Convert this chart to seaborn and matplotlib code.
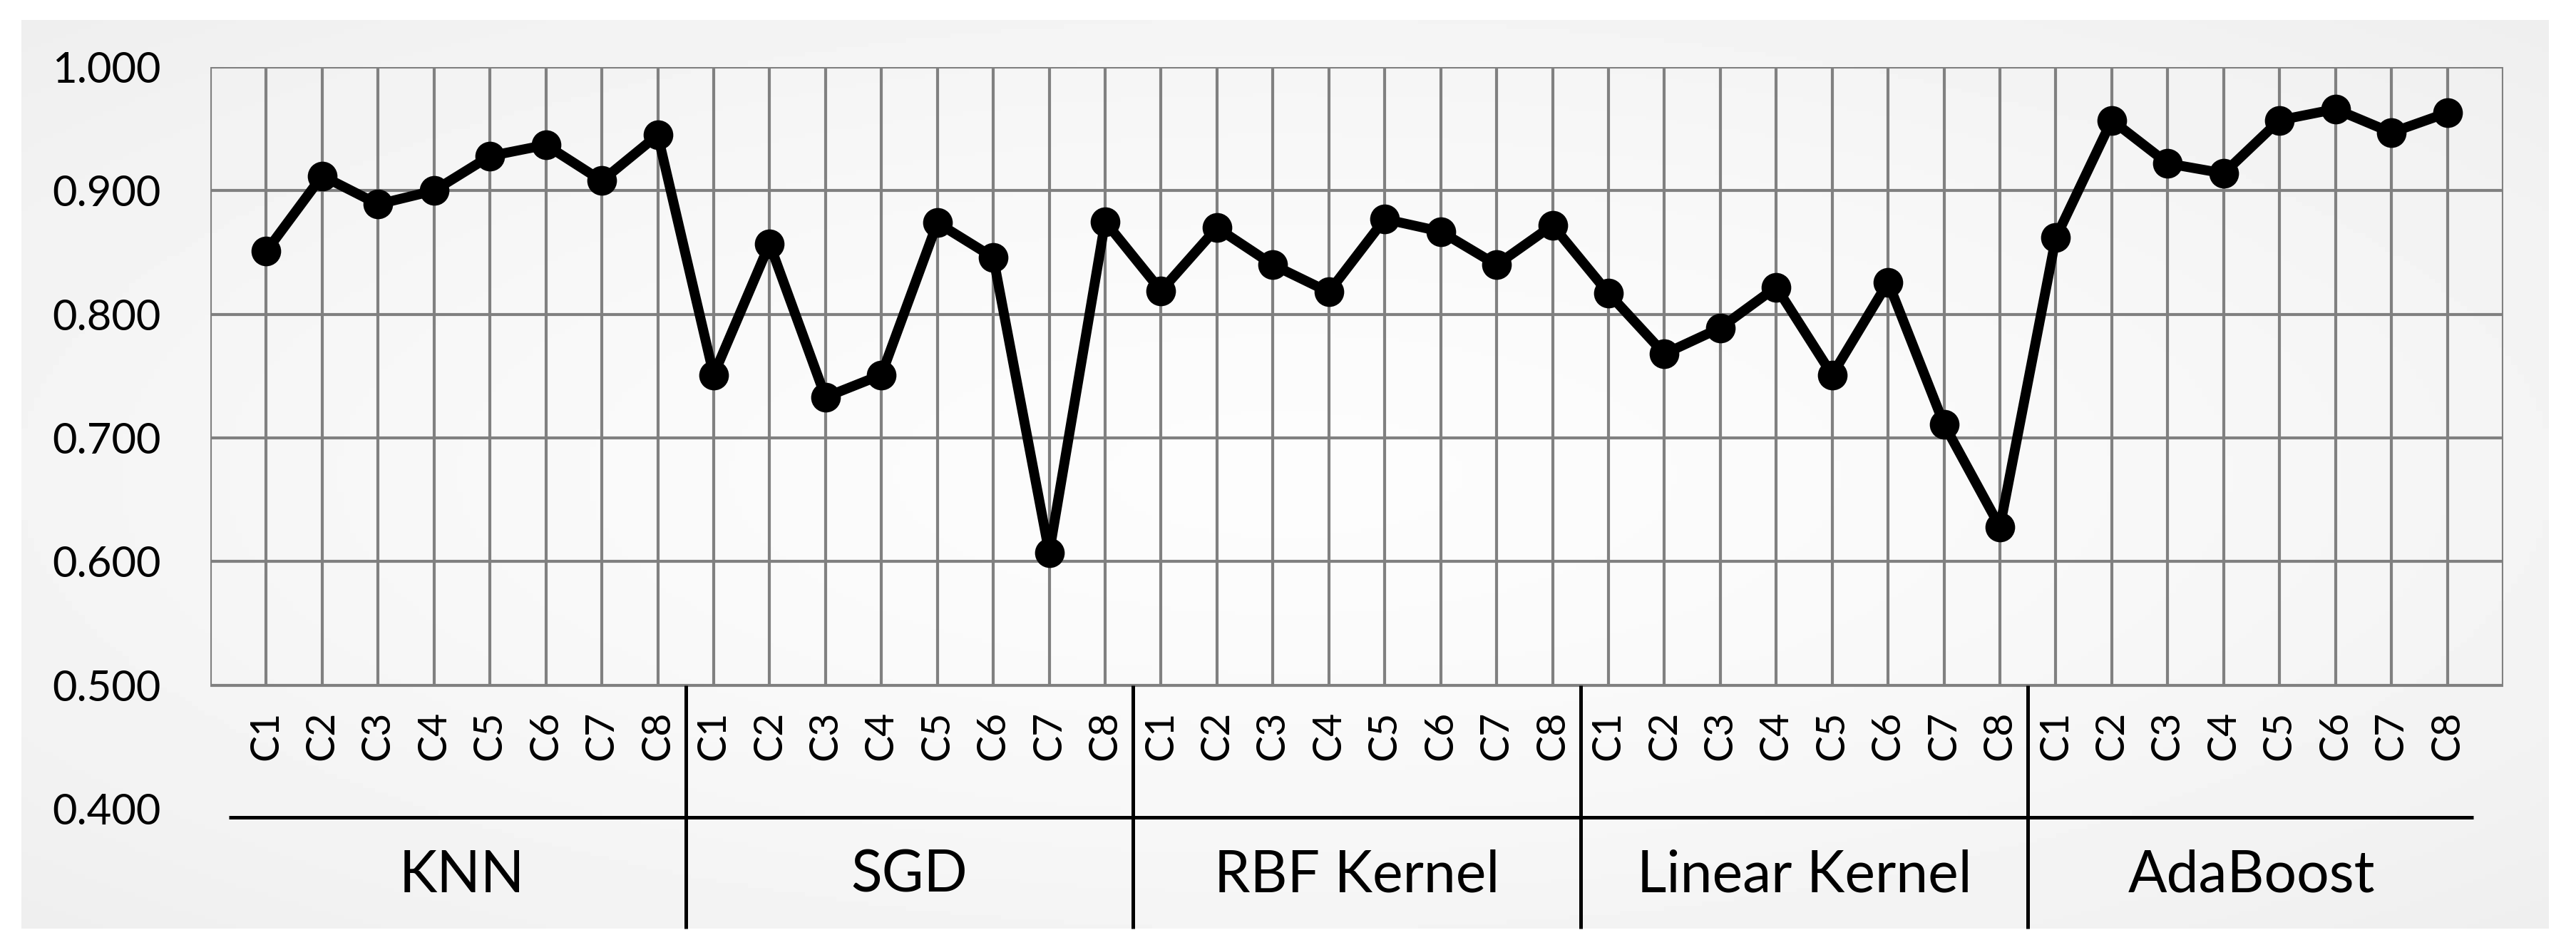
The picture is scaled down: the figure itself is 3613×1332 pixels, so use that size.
import numpy as np
import pandas as pd
import matplotlib
matplotlib.use("Agg")
import matplotlib.pyplot as plt
import seaborn as sns

# values
groups = ["KNN", "SGD", "RBF Kernel", "Linear Kernel", "AdaBoost"]
cases = ["C1", "C2", "C3", "C4", "C5", "C6", "C7", "C8"]
knn = [0.851, 0.912, 0.889, 0.900, 0.928, 0.937, 0.908, 0.945]
sgd = [0.751, 0.857, 0.733, 0.751, 0.874, 0.846, 0.607, 0.875]
rbf = [0.819, 0.870, 0.840, 0.818, 0.877, 0.867, 0.840, 0.872]
linear = [0.817, 0.768, 0.789, 0.822, 0.751, 0.826, 0.711, 0.628]
ada = [0.862, 0.957, 0.922, 0.914, 0.957, 0.966, 0.947, 0.963]
yticks = [0.4, 0.5, 0.6, 0.7, 0.8, 0.9, 1.0]

df = pd.DataFrame({
    "group": np.repeat(groups, len(cases)),
    "case": cases * len(groups),
    "value": knn + sgd + rbf + linear + ada,
})
df["pos"] = np.arange(len(df))

plt.rcParams['font.family'] = ['Lato', 'DejaVu Sans']

W, H = 3613, 1332
fig = plt.figure(figsize=(W / 100, H / 100), dpi=100)
fig.patch.set_facecolor("white")

# light grey panel with a soft radial gradient
bg = fig.add_axes([30 / W, 1 - 1302 / H, (3575 - 30) / W, (1302 - 28) / H])
gx, gy = np.meshgrid(np.linspace(-1, 1, 400), np.linspace(-1, 1, 200))
r = np.sqrt(gx ** 2 + gy ** 2) / np.sqrt(2)
bg.imshow(0.99 - 0.055 * r ** 1.5, cmap="gray", vmin=0, vmax=1,
          aspect="auto", extent=[0, 1, 0, 1])
bg.set_axis_off()

ax = fig.add_axes([295 / W, 1 - 1134 / H, (3511 - 295) / W, (1134 - 94) / H])
ax.set_facecolor("none")
n = len(df)
ax.set_xlim(-1, n)
ax.set_ylim(0.4, 1.0)

grid_c = "#808080"
ax.hlines(yticks[1:], -1, n, color=grid_c, lw=3, zorder=1)
ax.vlines(np.arange(-1, n + 1), 0.5, 1.0, color=grid_c, lw=3, zorder=1)

sns.lineplot(data=df, x="pos", y="value", color="black", linewidth=10,
             marker="o", markersize=30, markeredgewidth=0, ax=ax, zorder=3)

ax.set_yticks(yticks)
ax.set_yticklabels([f"{v:.3f}" for v in yticks])
ax.tick_params(axis="y", length=0, pad=50, labelsize=43)
ax.set_xticks([])
ax.set_xlabel("")
ax.set_ylabel("")
for s in ax.spines.values():
    s.set_visible(False)

# category labels
for p, c in zip(df["pos"], df["case"]):
    ax.text(p, 0.479, c, rotation=90, ha="center", va="top", fontsize=40)

# group axis
k = len(cases)
ax.plot([-0.67, n - 0.53], [0.393, 0.393], color="black", lw=3.6,
        clip_on=False, solid_capstyle="butt")
for i in range(1, len(groups)):
    ax.plot([i * k - 0.5] * 2, [0.5, 0.303], color="black", lw=3.6,
            clip_on=False, solid_capstyle="butt")
for i, g in enumerate(groups):
    ax.text(i * k + (k - 1) / 2, 0.346, g, ha="center", va="center",
            fontsize=58, clip_on=False)

fig.savefig("out.png", dpi=100, facecolor="white")
